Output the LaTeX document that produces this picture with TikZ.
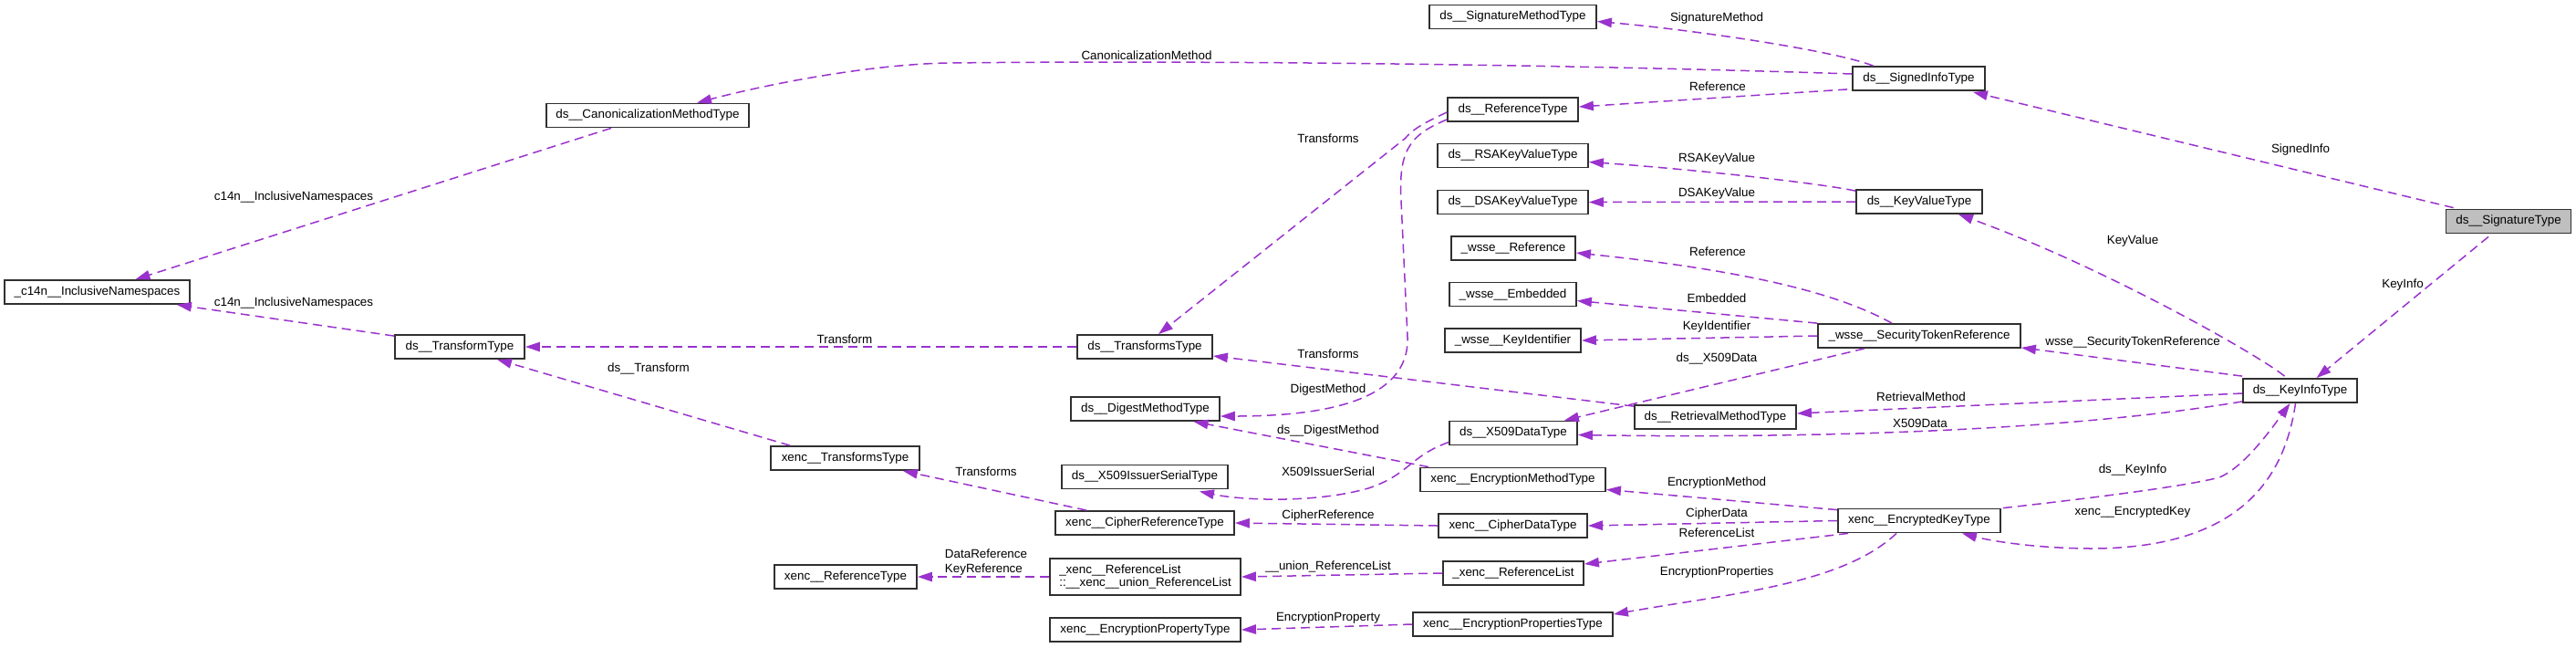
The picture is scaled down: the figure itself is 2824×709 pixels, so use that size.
\documentclass[tikz,border=0pt]{standalone}
\usepackage{fontspec}
\setmainfont{Liberation Sans}
\usetikzlibrary{arrows.meta,calc}
\definecolor{edgec}{HTML}{9A32CD}
\definecolor{graybox}{HTML}{BFBFBF}
\definecolor{boxline}{HTML}{303030}
\begin{document}
\begin{tikzpicture}[x=0.5pt,y=-0.5pt,
  box/.style={draw=boxline, line width=0.9pt, fill=white, minimum height=13pt, inner sep=0pt, font=\fontsize{6.7}{7.4}\selectfont},
  bw/.style={minimum width=#1*0.5pt},
  lbl/.style={font=\fontsize{6.7}{8}\selectfont, inner sep=0pt},
  edge/.style={draw=edgec, line width=0.75pt, dash pattern=on 5pt off 3pt, -{Triangle[length=8pt,width=5.2pt]}}]
\useasboundingbox (0,0) rectangle (2824,709);
% nodes
\node[box,bw=137,fill=graybox] (sig) at (2750,242.5) {ds\_\_SignatureType};
\node[box,bw=145] (signed) at (2103.5,86) {ds\_\_SignedInfoType};
\node[box,bw=183] (sigm) at (1658.5,18.5) {ds\_\_SignatureMethodType};
\node[box,bw=222] (canon) at (710,126.5) {ds\_\_CanonicalizationMethodType};
\node[box,bw=203] (c14n) at (106.5,320) {\_c14n\_\_InclusiveNamespaces};
\node[box,bw=143] (ref) at (1658.5,120) {ds\_\_ReferenceType};
\node[box,bw=165] (rsa) at (1658.5,170.5) {ds\_\_RSAKeyValueType};
\node[box,bw=165] (dsa) at (1658.5,221.5) {ds\_\_DSAKeyValueType};
\node[box,bw=138] (kv) at (2104,221) {ds\_\_KeyValueType};
\node[box,bw=136] (wref) at (1659,272) {\_wsse\_\_Reference};
\node[box,bw=139] (wemb) at (1658.5,322.5) {\_wsse\_\_Embedded};
\node[box,bw=149] (wkid) at (1658.5,373) {\_wsse\_\_KeyIdentifier};
\node[box,bw=222] (str) at (2104,368) {\_wsse\_\_SecurityTokenReference};
\node[box,bw=125] (ki) at (2521.5,428) {ds\_\_KeyInfoType};
\node[box,bw=142] (tt) at (504,380) {ds\_\_TransformType};
\node[box,bw=148] (tst) at (1255,380) {ds\_\_TransformsType};
\node[box,bw=163] (dm) at (1255.5,448) {ds\_\_DigestMethodType};
\node[box,bw=177] (rm) at (1880.5,457) {ds\_\_RetrievalMethodType};
\node[box,bw=140] (x509) at (1659,474.5) {ds\_\_X509DataType};
\node[box,bw=182] (xis) at (1255,522.5) {ds\_\_X509IssuerSerialType};
\node[box,bw=163] (xtt) at (926.5,502) {xenc\_\_TransformsType};
\node[box,bw=203] (em) at (1658.5,525.5) {xenc\_\_EncryptionMethodType};
\node[box,bw=196] (cref) at (1255,573) {xenc\_\_CipherReferenceType};
\node[box,bw=163] (cd) at (1658.5,576) {xenc\_\_CipherDataType};
\node[box,bw=156] (xrt) at (927,632) {xenc\_\_ReferenceType};
\node[box,bw=209,minimum height=20pt,align=left] (url) at (1255.5,632) {\_xenc\_\_ReferenceList\\::\_\_xenc\_\_union\_ReferenceList};
\node[box,bw=154] (rl) at (1659,628) {\_xenc\_\_ReferenceList};
\node[box,bw=209] (ept) at (1255.5,690) {xenc\_\_EncryptionPropertyType};
\node[box,bw=219] (eps) at (1658.5,684) {xenc\_\_EncryptionPropertiesType};
\node[box,bw=178] (ek) at (2104,570.5) {xenc\_\_EncryptedKeyType};
% edges
\draw[edge] ($(sig.north west)+(9,-1)$) -- ($(signed.south east)+(-14,1)$);
\draw[edge] ($(sig.south)+(-22,3)$) -- ($(ki.north)+(18,0)$);
\draw[edge] ($(signed.north)+(-50,0)$) .. controls (2010,55) and (1850,32) .. ($(sigm.east)+(0,5)$);
\draw[edge] ($(signed.west)+(0,-5)$) .. controls (1700,70) and (1300,66) .. (1041,69) .. controls (960,70) and (850,90) .. ($(canon.north)+(54,0)$);
\draw[edge] ($(signed.south west)+(-5,-2)$) -- ($(ref.east)+(0,-3)$);
\draw[edge] ($(ref.west)+(0,3)$) .. controls (1565,133) and (1550,140) .. (1540,152) -- ($(tst.north)+(15,0)$);
\draw[edge] ($(ref.west)+(0,11)$) .. controls (1545,148) and (1533,165) .. (1536,220) -- (1543,370) .. controls (1545,440) and (1450,456) .. ($(dm.east)+(0,8)$);
\draw[edge] ($(kv.north west)+(0,2)$) .. controls (1990,200) and (1850,185) .. ($(rsa.east)+(0,7)$);
\draw[edge] (kv.west) -- (dsa.east);
\draw[edge] ($(ki.north)+(-17,-2)$) .. controls (2470,385) and (2300,290) .. ($(kv.south)+(43,0)$);
\draw[edge] ($(ki.north west)+(0,-2)$) -- ($(str.south east)+(0,-1)$);
\draw[edge] ($(str.north)+(-30,0)$) .. controls (2030,330) and (1950,300) .. ($(wref.east)+(0,5)$);
\draw[edge] (str.north west) -- ($(wemb.east)+(0,7)$);
\draw[edge] (str.west) -- (wkid.east);
\draw[edge] ($(str.south)+(-60,0)$) -- ($(x509.north east)+(-15,0)$);
\draw[edge] ($(rm.north west)+(0,2)$) -- ($(tst.east)+(0,10)$);
\draw[edge] ($(ki.west)+(0,3)$) -- ($(rm.east)+(0,-4)$);
\draw[edge] ($(ki.south west)+(0,-2)$) .. controls (2250,475) and (1950,480) .. ($(x509.east)+(0,2)$);
\draw[edge] ($(x509.west)+(0,10)$) .. controls (1545,500) and (1545,520) .. (1500,535) .. controls (1440,552) and (1360,548) .. ($(xis.south east)+(-32,2)$);
\draw[edge] ($(em.north west)+(10,0)$) -- ($(dm.south)+(53,0)$);
\draw[edge] (tst.west) -- (tt.east);
\draw[edge] ($(tt.north west)+(0,2)$) -- ($(c14n.south east)+(-15,0)$);
\draw[edge] ($(canon.south)+(-40,0)$) -- ($(c14n.north)+(42,0)$);
\draw[edge] ($(xtt.north west)+(22,0)$) -- ($(tt.south)+(41,0)$);
\draw[edge] ($(cref.north west)+(35,0)$) -- ($(xtt.south east)+(-19,0)$);
\draw[edge] (cd.west) -- (cref.east);
\draw[edge] (rl.west) -- (url.east);
\draw[edge] (url.west) -- (xrt.east);
\draw[edge] (eps.west) -- (ept.east);
\draw[edge] ($(ek.north west)+(0,2)$) -- ($(em.south east)+(0,-3)$);
\draw[edge] (ek.west) -- (cd.east);
\draw[edge] ($(ek.south west)+(12,0)$) -- ($(rl.east)+(0,-10)$);
\draw[edge] ($(ek.south)+(-25,0)$) .. controls (2020,640) and (1900,650) .. ($(eps.east)+(0,-11)$);
\draw[edge] ($(ek.north east)+(2,0)$) .. controls (2300,545) and (2400,532) .. (2433,523) .. controls (2460,512) and (2490,470) .. ($(ki.south)+(-11,0)$);
\draw[edge] ($(ki.south)+(-5,0)$) .. controls (2505,520) and (2460,600) .. (2295,601) .. controls (2230,601) and (2180,592) .. ($(ek.south east)+(-43,0)$);
% labels
\node[lbl] (l1) at (2522,164) {SignedInfo};
\node[lbl] (l2) at (2634,312) {KeyInfo};
\node[lbl] (l3) at (1882,20) {SignatureMethod};
\node[lbl] (l4) at (1257,61) {CanonicalizationMethod};
\node[lbl] (l5) at (1883,95) {Reference};
\node[lbl] (l6) at (1456,152) {Transforms};
\node[lbl] (l7) at (1456,427) {DigestMethod};
\node[lbl] (l8) at (1882,174) {RSAKeyValue};
\node[lbl] (l9) at (1882,212) {DSAKeyValue};
\node[lbl] (l10) at (2338,264) {KeyValue};
\node[lbl] (l11) at (2338,375) {wsse\_\_SecurityTokenReference};
\node[lbl] (l12) at (1883,276) {Reference};
\node[lbl] (l13) at (1882,327) {Embedded};
\node[lbl] (l14) at (1882,358) {KeyIdentifier};
\node[lbl] (l15) at (1882,393) {ds\_\_X509Data};
\node[lbl] (l16) at (1456,388) {Transforms};
\node[lbl] (l17) at (2106,435) {RetrievalMethod};
\node[lbl] (l18) at (2105,464) {X509Data};
\node[lbl] (l19) at (1456,517) {X509IssuerSerial};
\node[lbl] (l20) at (1456,472) {ds\_\_DigestMethod};
\node[lbl] (l21) at (926,372) {Transform};
\node[lbl] (l22) at (322,332) {c14n\_\_InclusiveNamespaces};
\node[lbl] (l23) at (322,216) {c14n\_\_InclusiveNamespaces};
\node[lbl] (l24) at (711,404) {ds\_\_Transform};
\node[lbl] (l25) at (1081,517) {Transforms};
\node[lbl] (l26) at (1456,565) {CipherReference};
\node[lbl] (l27) at (1456,621) {\_\_union\_ReferenceList};
\node[lbl,align=left] (l28) at (1081,616) {DataReference\\KeyReference};
\node[lbl] (l29) at (1456,677) {EncryptionProperty};
\node[lbl] (l30) at (1882,529) {EncryptionMethod};
\node[lbl] (l31) at (1882,563) {CipherData};
\node[lbl] (l32) at (1882,584) {ReferenceList};
\node[lbl] (l33) at (1882,627) {EncryptionProperties};
\node[lbl] (l34) at (2338,515) {ds\_\_KeyInfo};
\node[lbl] (l35) at (2338,561) {xenc\_\_EncryptedKey};
\end{tikzpicture}
\end{document}
